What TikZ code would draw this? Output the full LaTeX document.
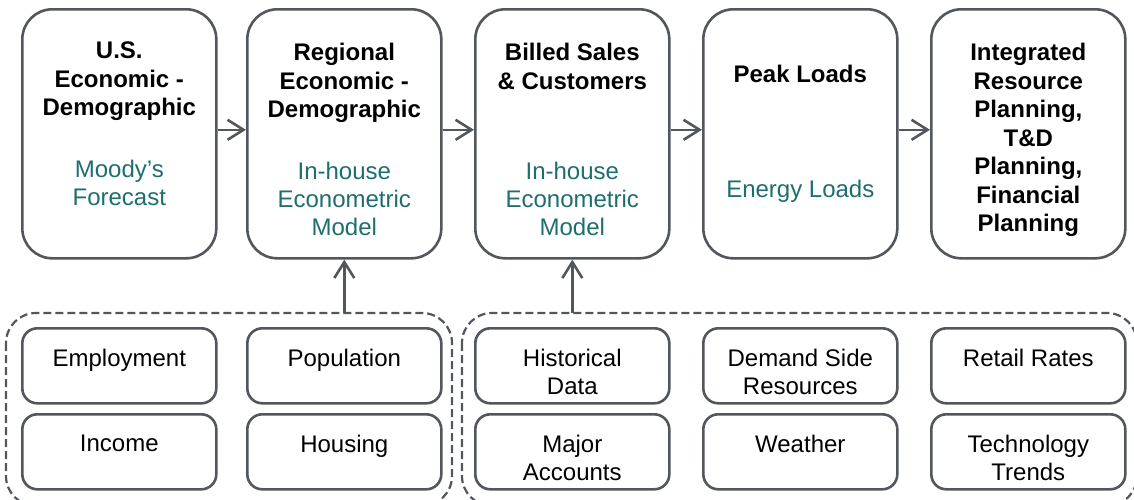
\documentclass[tikz,border=0pt]{standalone}
\usepackage{fontspec}
\setmainfont{Liberation Sans}
\usetikzlibrary{arrows.meta}

\definecolor{edgegray}{RGB}{82,87,94}
\definecolor{modelteal}{RGB}{30,110,112}

\tikzset{
  stagebox/.style={draw=edgegray, line width=2.6pt, rounded corners=30pt,
    minimum width=194pt, minimum height=249pt, inner sep=0pt, anchor=north west, fill=white},
  inputbox/.style={draw=edgegray, line width=2.6pt, rounded corners=15pt,
    minimum width=194pt, minimum height=75pt, inner sep=0pt, anchor=north west, fill=white},
  groupbox/.style={draw=edgegray, line width=2.2pt, rounded corners=30pt,
    dash pattern=on 8pt off 4pt},
  headtext/.style={anchor=north, inner sep=0pt, align=center,
    font=\bfseries\fontsize{24}{28.5}\selectfont, text=black},
  modeltext/.style={anchor=north, inner sep=0pt, align=center,
    font=\fontsize{24}{28}\selectfont, text=modelteal},
  inputtext/.style={anchor=north, inner sep=0pt, align=center,
    font=\fontsize{24}{28}\selectfont, text=black},
  flow/.style={draw=edgegray, line width=2.6pt,
    -{Straight Barb[length=16pt, width=20pt, line width=2.6pt]}}
}

\begin{document}
\begin{tikzpicture}[x=1pt, y=-1pt]
\useasboundingbox (0,0) rectangle (1134,499);
\clip (0,0) rectangle (1134,499);

% dashed groups of input drivers
\draw[groupbox] (6,313) rectangle (452,506) coordinate (g1se);
\coordinate (g1) at (229,313);
\draw[groupbox] (462,313) rectangle (1137,506);
\coordinate (g2) at (799,313);

% forecast stages
\node[stagebox] (b1) at (21,8) {};
\node[stagebox] (b2) at (246,8) {};
\node[stagebox] (b3) at (474,8) {};
\node[stagebox] (b4) at (702,8) {};
\node[stagebox] (b5) at (930,8) {};

\node[headtext] (b1h) at ([yshift=-34pt]b1.north) {U.S.\\Economic -\\Demographic};
\node[modeltext] (b1m) at ([yshift=-152pt]b1.north) {Moody’s\\Forecast};

\node[headtext] (b2h) at ([yshift=-35pt]b2.north) {Regional\\Economic -\\Demographic};
\node[modeltext] (b2m) at ([yshift=-154pt]b2.north) {In-house\\Econometric\\Model};

\node[headtext] (b3h) at ([yshift=-35pt]b3.north) {Billed Sales\\\& Customers};
\node[modeltext] (b3m) at ([yshift=-154pt]b3.north) {In-house\\Econometric\\Model};

\node[headtext] (b4h) at ([yshift=-57pt]b4.north) {Peak Loads};
\node[modeltext] (b4m) at ([yshift=-172pt]b4.north) {Energy Loads};

\node[headtext] (b5h) at ([yshift=-35pt]b5.north) {Integrated\\Resource\\Planning,\\T\&D\\Planning,\\Financial\\Planning};

% input drivers
\node[inputbox] (emp) at (21,327) {};
\node[inputbox] (inc) at (21,413) {};
\node[inputbox] (pop) at (246,327) {};
\node[inputbox] (hou) at (246,413) {};
\node[inputbox] (his) at (474,327) {};
\node[inputbox] (maj) at (474,413) {};
\node[inputbox] (dsr) at (702,327) {};
\node[inputbox] (wea) at (702,413) {};
\node[inputbox] (ret) at (930,327) {};
\node[inputbox] (tec) at (930,413) {};

\node[inputtext] (empt) at ([yshift=-22pt]emp.north) {Employment};
\node[inputtext] (inct) at ([yshift=-22pt]inc.north) {Income};
\node[inputtext] (popt) at ([yshift=-22pt]pop.north) {Population};
\node[inputtext] (hout) at ([yshift=-22pt]hou.north) {Housing};
\node[inputtext] (hist) at ([yshift=-22pt]his.north) {Historical\\Data};
\node[inputtext] (majt) at ([yshift=-22pt]maj.north) {Major\\Accounts};
\node[inputtext] (dsrt) at ([yshift=-22pt]dsr.north) {Demand Side\\Resources};
\node[inputtext] (weat) at ([yshift=-22pt]wea.north) {Weather};
\node[inputtext] (rett) at ([yshift=-22pt]ret.north) {Retail Rates};
\node[inputtext] (tect) at ([yshift=-22pt]tec.north) {Technology\\Trends};

% flow between stages
\draw[flow] ([yshift=4pt]b1.east) -- ([yshift=4pt]b2.west);
\draw[flow] ([yshift=4pt]b2.east) -- ([yshift=4pt]b3.west);
\draw[flow] ([yshift=4pt]b3.east) -- ([yshift=4pt]b4.west);
\draw[flow] ([yshift=4pt]b4.east) -- ([yshift=4pt]b5.west);

% drivers feeding the econometric models
\draw[flow] (b2.south |- g1) -- (b2.south);
\draw[flow] (b3.south |- g2) -- (b3.south);
\end{tikzpicture}
\end{document}
